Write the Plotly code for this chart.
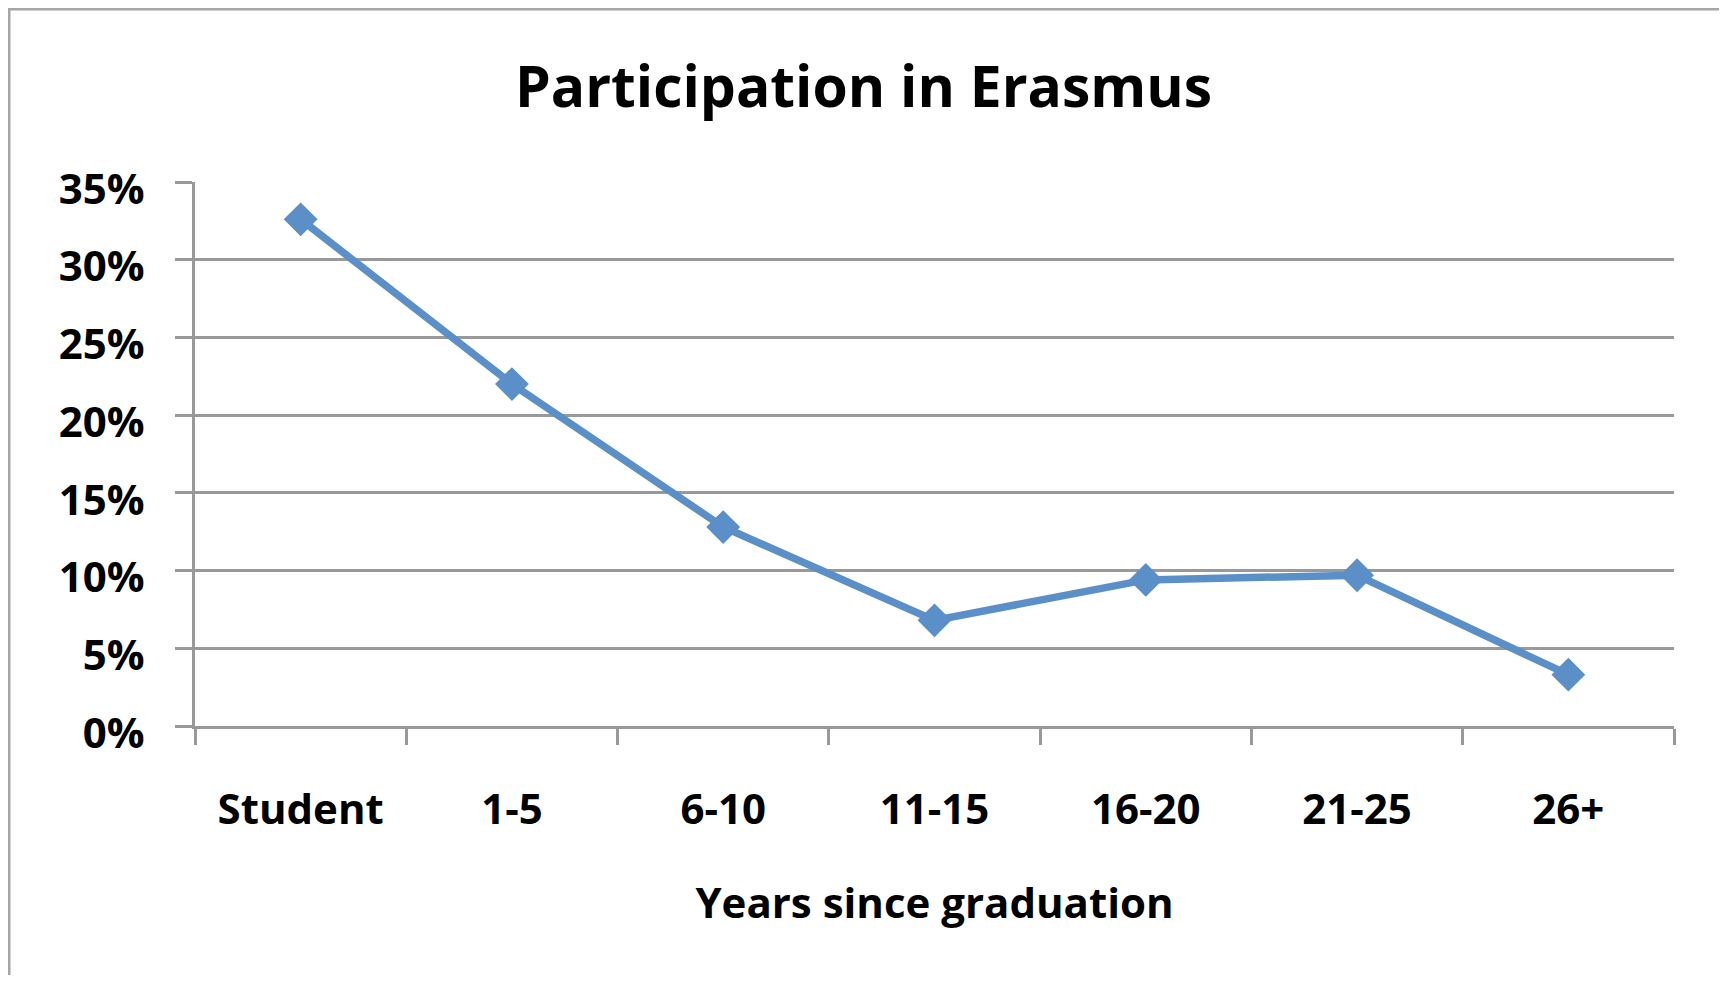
import plotly.graph_objects as go

categories = ["Student", "1-5", "6-10", "11-15", "16-20", "21-25", "26+"]
participation = [0.326, 0.220, 0.128, 0.068, 0.094, 0.097, 0.033]
y_ticks = [0, 0.05, 0.10, 0.15, 0.20, 0.25, 0.30, 0.35]
y_tick_labels = ["0%", "5%", "10%", "15%", "20%", "25%", "30%", "35%"]

OFF = 8  # page body margin
W, H = 1727 - 2 * OFF, 983 - 2 * OFF
L, R, T, B = 195 - OFF, 1674 - OFF, 182 - OFF, 726 - OFF
FONT = "Open Sans, sans-serif"
GRID = "#999999"
LINE = "#5A8FC8"

fig = go.Figure()
fig.add_trace(go.Scatter(
    x=categories, y=participation, mode="lines+markers",
    line=dict(color=LINE, width=7.5),
    marker=dict(symbol="diamond", size=26, color=LINE),
    showlegend=False,
))

pw, ph = R - L, B - T
def px(x):
    return (x - L) / pw
def py(y):
    return (B - y) / ph

fig.update_layout(
    width=W, height=H,
    margin=dict(l=L, r=W - R, t=T, b=H - B, pad=0),
    paper_bgcolor="white", plot_bgcolor="white",
    font=dict(family=FONT, color="black"),
    title=dict(text="<b>Participation in Erasmus</b>", x=0.5, xref="container",
               y=1 - 79 / H, yref="container", xanchor="center", yanchor="middle",
               font=dict(size=57, family=FONT, color="black")),
    xaxis=dict(
        type="category", range=[-0.5, 6.5],
        tickson="boundaries", ticks="outside", ticklen=16, tickwidth=3, tickcolor=GRID,
        showline=True, linecolor=GRID, linewidth=3,
        showgrid=False, zeroline=False,
        tickvals=categories, ticktext=["<b>%s</b>" % c for c in categories],
        tickfont=dict(size=42, family=FONT, color="black"),
        ticklabelstandoff=45,
        title=dict(text="<b>Years since graduation</b>", font=dict(size=42, family=FONT, color="black"), standoff=54),
    ),
    yaxis=dict(
        range=[0, 0.35], tickvals=y_ticks, ticktext=["<b>%s</b>" % t for t in y_tick_labels],
        ticks="outside", ticklen=17, tickwidth=3, tickcolor=GRID,
        showline=True, linecolor=GRID, linewidth=3,
        showgrid=True, gridcolor=GRID, gridwidth=3, zeroline=False,
        tickfont=dict(size=42, family=FONT, color="black"),
        ticklabelstandoff=22, ticklabelshift=7,
    ),
)

fig.add_shape(type="rect", xref="paper", yref="paper",
              x0=px(1), x1=px(1714), y0=py(1000), y1=py(1),
              line=dict(color="#a6a6a6", width=3), fillcolor="rgba(0,0,0,0)", layer="below")

fig.write_html("out.html")
